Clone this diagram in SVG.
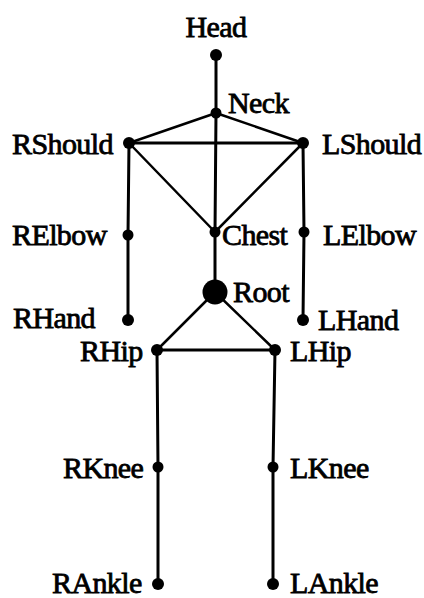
<svg xmlns="http://www.w3.org/2000/svg" width="424" height="598" viewBox="0 0 424 598">
<style>
.lbl{font-family:"Liberation Serif","Times New Roman",serif;font-size:30px;letter-spacing:-0.6px;fill:#000;stroke:#000;stroke-width:0.8px}
.e{stroke:#000;stroke-width:3;stroke-linecap:round;fill:none}
.d{stroke-width:2.5}
.n{fill:#000}
</style>
<rect width="424" height="598" fill="#fff"/>
<g id="connectors">
<line class="e" x1="216" y1="55" x2="216" y2="113"/>
<line class="e d" x1="216" y1="113" x2="129" y2="143"/>
<line class="e d" x1="216" y1="113" x2="303" y2="143"/>
<line class="e" x1="129" y1="143" x2="303" y2="143"/>
<line class="e d" x1="129" y1="143" x2="215" y2="232"/>
<line class="e d" x1="303" y1="143" x2="215" y2="232"/>
<line class="e" x1="216" y1="113" x2="215" y2="232"/>
<line class="e" x1="129" y1="143" x2="128" y2="235"/>
<line class="e" x1="128" y1="235" x2="128" y2="320"/>
<line class="e" x1="303" y1="143" x2="304" y2="232"/>
<line class="e" x1="304" y1="232" x2="303" y2="320"/>
<line class="e" x1="215" y1="232" x2="215" y2="292"/>
<line class="e d" x1="215" y1="292" x2="157" y2="350"/>
<line class="e d" x1="215" y1="292" x2="275" y2="350"/>
<line class="e" x1="157" y1="350" x2="275" y2="350"/>
<line class="e" x1="157" y1="350" x2="158" y2="467"/>
<line class="e" x1="158" y1="467" x2="158" y2="584"/>
<line class="e" x1="275" y1="350" x2="273" y2="467"/>
<line class="e" x1="273" y1="467" x2="273" y2="584"/>
</g>
<g id="Head"><circle class="n" cx="216" cy="55" r="6"/><text class="lbl" x="216" y="37" text-anchor="middle">Head</text></g>
<g id="Neck"><circle class="n" cx="216" cy="113" r="5.5"/><text class="lbl" x="228" y="113">Neck</text></g>
<g id="RShould"><circle class="n" cx="129" cy="143" r="6"/><text class="lbl" x="12" y="154">RShould</text></g>
<g id="LShould"><circle class="n" cx="303" cy="143" r="6"/><text class="lbl" x="322" y="154">LShould</text></g>
<g id="RElbow"><circle class="n" cx="128" cy="235" r="5.5"/><text class="lbl" x="12" y="245">RElbow</text></g>
<g id="Chest"><circle class="n" cx="215" cy="232" r="5.5"/><text class="lbl" x="222" y="245">Chest</text></g>
<g id="LElbow"><circle class="n" cx="304" cy="232" r="5.5"/><text class="lbl" x="323" y="245">LElbow</text></g>
<g id="Root"><circle class="n" cx="215" cy="292" r="12.5"/><text class="lbl" x="233" y="302">Root</text></g>
<g id="RHand"><circle class="n" cx="128" cy="320" r="6"/><text class="lbl" x="13" y="328">RHand</text></g>
<g id="LHand"><circle class="n" cx="303" cy="320" r="6"/><text class="lbl" x="318" y="330">LHand</text></g>
<g id="RHip"><circle class="n" cx="157" cy="350" r="6"/><text class="lbl" x="80" y="361">RHip</text></g>
<g id="LHip"><circle class="n" cx="275" cy="350" r="6"/><text class="lbl" x="290" y="361">LHip</text></g>
<g id="RKnee"><circle class="n" cx="158" cy="467" r="5.5"/><text class="lbl" x="63" y="478">RKnee</text></g>
<g id="LKnee"><circle class="n" cx="273" cy="467" r="5.5"/><text class="lbl" x="290" y="478">LKnee</text></g>
<g id="RAnkle"><circle class="n" cx="158" cy="584" r="6"/><text class="lbl" x="52" y="593">RAnkle</text></g>
<g id="LAnkle"><circle class="n" cx="273" cy="584" r="6"/><text class="lbl" x="290" y="593">LAnkle</text></g>
</svg>
